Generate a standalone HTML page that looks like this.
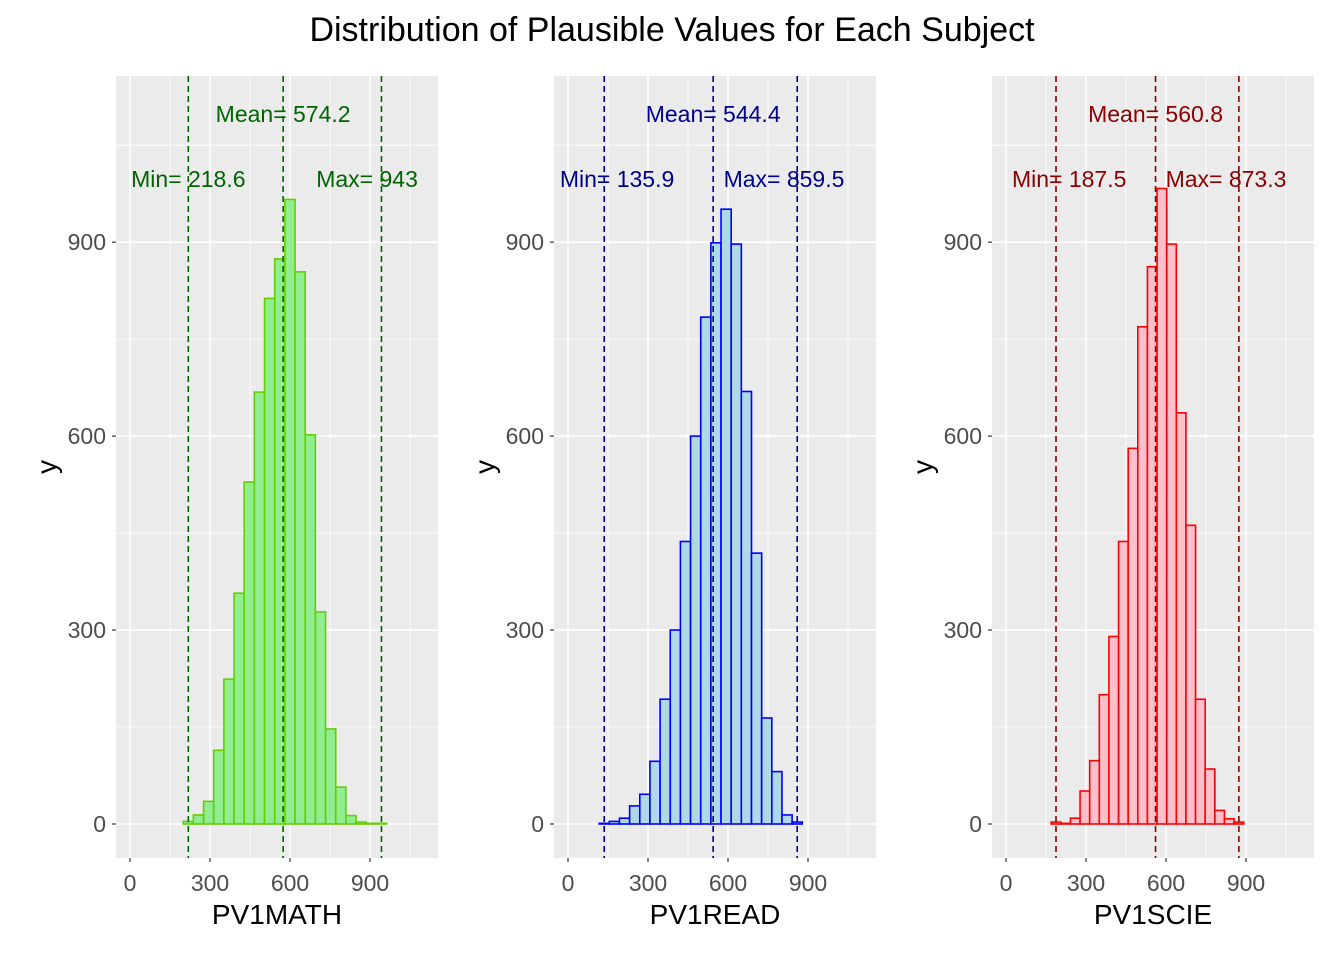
<!DOCTYPE html>
<html><head><meta charset="utf-8"><style>
body{margin:0;background:#fff;}
svg text{font-family:"Liberation Sans",Arial,sans-serif;}
</style></head><body>
<svg id="c" width="1344" height="960" xmlns="http://www.w3.org/2000/svg">
<text x="672" y="41" font-size="34" text-anchor="middle" fill="#000">Distribution of Plausible Values for Each Subject</text>
</svg>
<script>
const subjects = ["PV1MATH","PV1READ","PV1SCIE"];
const mins = [218.6,135.9,187.5];
const maxs = [943,859.5,873.3];
const means = [574.2,544.4,560.8];
const minLabelX = [218.6,184,237];
const maxLabelX = [889,810,825];
const mathCounts = [4,14,35,114,224,357,529,668,813,874,966,854,602,328,147,57,13,3,1,1];
const readCounts = [1,4,9,28,46,97,193,300,437,600,784,899,951,897,669,419,164,81,14,3];
const scieCounts = [3,1,9,51,98,200,290,437,581,769,862,983,897,636,462,193,85,21,8,3];
const xTicks = [0,300,600,900];
const yTicks = [0,300,600,900];
const counts = [mathCounts,readCounts,scieCounts];
const fills = ["#90EE90","#ADD8E6","#FFC0CB"];
const strokes = ["#66CD00","#0000FF","#FF0000"];
const lineCols = ["#006400","#00008B","#8B0000"];
const NS="http://www.w3.org/2000/svg";
const svg=document.getElementById('c');
function mk(tag,attrs,parent){const e=document.createElementNS(NS,tag);for(const k in attrs)e.setAttribute(k,attrs[k]);(parent||svg).appendChild(e);return e;}
const panelLeft=[116,554,992], pw=322, pTop=76, pBottom=858;
const xmin=-52.5, xmax=1155, ymin=-52.6, ymax=1157;
subjects.forEach((s,p)=>{
  const g=mk('g',{});
  
  
  const L=panelLeft[p];
  const X=v=>L+(v-xmin)/(xmax-xmin)*pw;
  const Y=v=>pBottom-(v-ymin)/(ymax-ymin)*(pBottom-pTop);
  const bg=mk('rect',{x:L,y:pTop,width:pw,height:pBottom-pTop,fill:'#EBEBEB'},g);
  
  
  [150,450,750,1050].forEach(v=>{
    mk('line',{x1:X(v),x2:X(v),y1:pTop,y2:pBottom,stroke:'#fff','stroke-width':0.8},g);
    mk('line',{x1:L,x2:L+pw,y1:Y(v),y2:Y(v),stroke:'#fff','stroke-width':0.8},g);
  });
  xTicks.forEach(v=>{
    mk('line',{x1:X(v),x2:X(v),y1:pTop,y2:pBottom,stroke:'#fff','stroke-width':1.6},g);
    mk('line',{x1:X(v),x2:X(v),y1:pBottom,y2:pBottom+4,stroke:'#333','stroke-width':1.2},g);
    const t=mk('text',{x:X(v),y:891,'font-size':23,'text-anchor':'middle',fill:'#4D4D4D'},g);
    t.textContent=v;
    
    
  });
  yTicks.forEach(v=>{
    mk('line',{x1:L,x2:L+pw,y1:Y(v),y2:Y(v),stroke:'#fff','stroke-width':1.6},g);
    mk('line',{x1:L-4,x2:L,y1:Y(v),y2:Y(v),stroke:'#333','stroke-width':1.2},g);
    const t=mk('text',{x:L-10,y:Y(v)+8,'font-size':23,'text-anchor':'end',fill:'#4D4D4D'},g);
    t.textContent=v;
    
    
  });
  const c=counts[p], n=c.length, w=(maxs[p]-mins[p])/(n-1);
  c.forEach((cnt,i)=>{
    const x0=mins[p]-w/2+i*w;
    const r=mk('rect',{x:X(x0),y:Y(cnt),width:X(x0+w)-X(x0),height:Y(0)-Y(cnt),fill:fills[p],stroke:strokes[p],'stroke-width':1.6},g);
    
    
  });
  [mins[p],means[p],maxs[p]].forEach(v=>{
    const l=mk('line',{x1:X(v),x2:X(v),y1:pTop,y2:pBottom,stroke:lineCols[p],'stroke-width':1.6,'stroke-dasharray':'6,4'},g);
    
    
  });
  const ann=[["Mean= "+means[p],means[p],122],["Min= "+mins[p],minLabelX[p],187],["Max= "+maxs[p],maxLabelX[p],187]];
  ann.forEach(a=>{
    const t=mk('text',{x:X(a[1]),y:a[2],'font-size':23,'text-anchor':'middle',fill:lineCols[p]},g);
    t.textContent=a[0];
    
    
  });
  const xt=mk('text',{x:L+pw/2,y:924,'font-size':28,'text-anchor':'middle',fill:'#000'},g);
  xt.textContent=s;
  
  
  const yt=mk('text',{x:0,y:0,'font-size':28,'text-anchor':'middle',fill:'#000',transform:`translate(${L-60},${(pTop+pBottom)/2}) rotate(-90)`},g);
  yt.textContent='y';
  
  
});
</script>
</body></html>
